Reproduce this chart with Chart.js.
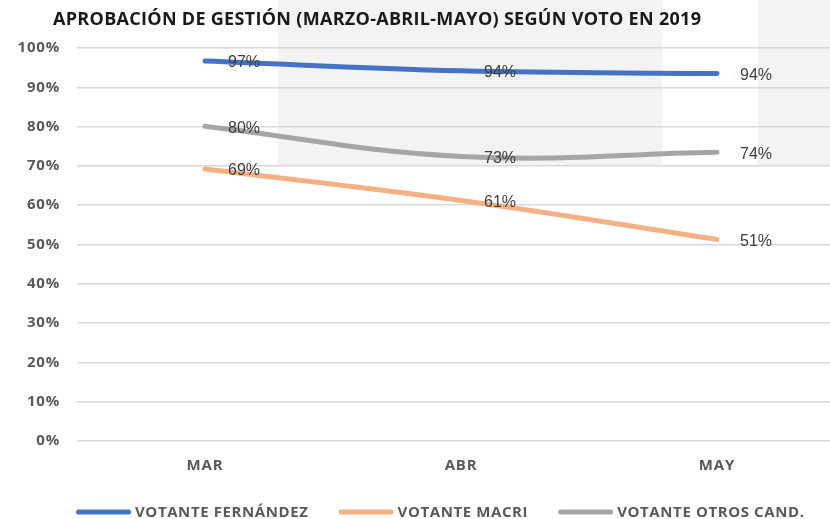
<!DOCTYPE html>
<html><head><meta charset="utf-8">
<script src="https://cdn.jsdelivr.net/npm/chart.js@4/dist/chart.umd.min.js"></script>
<style>html,body{margin:0;padding:0;background:#fff;overflow:hidden;width:830px;height:519px}#wrap{width:848px;height:519px}</style>
</head><body><div id="wrap"><canvas id="c" width="848" height="519"></canvas></div>
<script>
const categories = ["MAR", "ABR", "MAY"];
const fernandez = [96.7, 94.2, 93.5];
const macri = [69.2, 61.2, 51.3];
const otros = [80.1, 72.4, 73.5];
const labelsFernandez = ["97%", "94%", "94%"];
const labelsMacri = ["69%", "61%", "51%"];
const labelsOtros = ["80%", "73%", "74%"];
const seriesNames = ["VOTANTE FERNÁNDEZ", "VOTANTE MACRI", "VOTANTE OTROS CAND."];
const yTicks = [0,10,20,30,40,50,60,70,80,90,100];
const title = "APROBACIÓN DE GESTIÓN (MARZO-ABRIL-MAYO) SEGÚN VOTO EN 2019";
const colors = ["#4472C4", "#F4B183", "#A5A5A5"];

const bgPlugin = {
  id: 'bg',
  beforeDraw(chart) {
    const ctx = chart.ctx, y = chart.scales.y;
    ctx.save();
    ctx.fillStyle = '#f3f3f3';
    const bottom = y.getPixelForValue(70);
    ctx.fillRect(278, 0, 384, bottom);
    ctx.fillRect(758, 0, 90, bottom);
    ctx.restore();
  },
  afterDraw(chart) {
    const ctx = chart.ctx;
    ctx.save();
    ctx.letterSpacing = '0.3px';
    ctx.fillStyle = '#1a1a1a';
    ctx.font = 'bold 18px "Open Sans"';
    ctx.textBaseline = 'middle';
    ctx.fillText(title, 53, 20);
    // legend
    ctx.font = 'bold 15px "Open Sans"';
    ctx.letterSpacing = '0.6px';
    ctx.fillStyle = '#595959';
    let x = 76;
    const yl = 512;
    chart.data.datasets.forEach((d) => {
      ctx.strokeStyle = d.borderColor;
      ctx.lineWidth = 5;
      ctx.lineCap = 'round';
      ctx.beginPath();
      ctx.moveTo(x + 2.5, yl);
      ctx.lineTo(x + 52.5, yl);
      ctx.stroke();
      x += 59;
      ctx.fillText(d.label, x, yl + 1);
      x += ctx.measureText(d.label).width + 30;
    });
    ctx.restore();
  }
};
const dataLabelPlugin = {
  id: 'dl',
  afterDatasetsDraw(chart) {
    const ctx = chart.ctx;
    ctx.save();
    ctx.letterSpacing = '0px';
    ctx.font = '16px "Liberation Sans"';
    ctx.fillStyle = '#404040';
    ctx.textAlign = 'center';
    ctx.textBaseline = 'middle';
    chart.data.datasets.forEach((ds, i) => {
      const meta = chart.getDatasetMeta(i);
      meta.data.forEach((pt, j) => {
        ctx.fillText(ds.valueLabels[j], pt.x + 39, pt.y + 2);
      });
    });
    ctx.restore();
  }
};
const spacingPlugin = {
  id: 'sp',
  beforeInit(chart) { chart.ctx.letterSpacing = '0.8px'; },
  beforeUpdate(chart) { chart.ctx.letterSpacing = '0.8px'; },
  beforeDraw(chart) { chart.ctx.letterSpacing = '0.8px'; }
};

const tickFont = {family: '"Open Sans"', weight: 'bold', size: 15};
new Chart(document.getElementById('c'), {
  type: 'line',
  data: {
    labels: categories,
    datasets: [
      {label: seriesNames[0], data: fernandez, valueLabels: labelsFernandez, borderColor: colors[0], backgroundColor: colors[0]},
      {label: seriesNames[1], data: macri, valueLabels: labelsMacri, borderColor: colors[1], backgroundColor: colors[1]},
      {label: seriesNames[2], data: otros, valueLabels: labelsOtros, borderColor: colors[2], backgroundColor: colors[2]}
    ].map(d => Object.assign(d, {borderWidth: 5, borderCapStyle: 'round', tension: 0.4, pointRadius: 0, fill: false}))
  },
  options: {
    responsive: false,
    animation: false,
    layout: {padding: {top: 48, right: 3, left: 0, bottom: 36}},
    plugins: {
      legend: {display: false},
      tooltip: {enabled: false}
    },
    scales: {
      x: {
        offset: true,
        grid: {display: false},
        border: {display: false},
        ticks: {color: '#595959', font: tickFont, padding: 8}
      },
      y: {
        min: 0, max: 100,
        afterFit(s) { s.width = 77; },
        afterBuildTicks(s) { s.ticks = yTicks.map(v => ({value: v})); },
        grid: {color: '#d9d9d9', lineWidth: 1.5, drawTicks: false},
        border: {display: false},
        ticks: {color: '#595959', font: tickFont, padding: 17, callback: v => v + '%'}
      }
    }
  },
  plugins: [spacingPlugin, bgPlugin, dataLabelPlugin]
});
</script></body></html>
